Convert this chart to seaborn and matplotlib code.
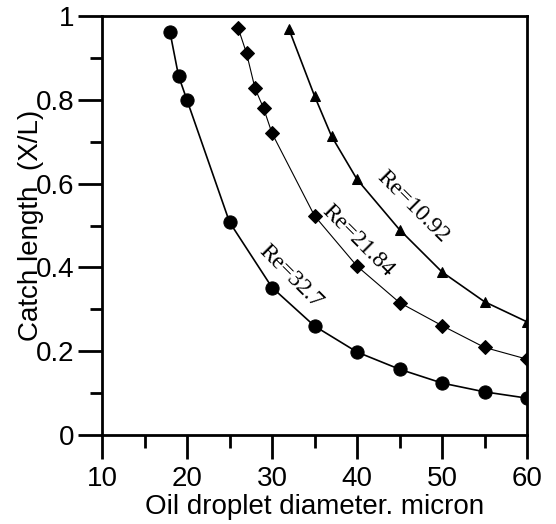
import numpy as np
import pandas as pd
import matplotlib
matplotlib.use("Agg")
import matplotlib.pyplot as plt
import seaborn as sns
from matplotlib.ticker import MultipleLocator

# Data
re_labels = ["Re=32.7", "Re=21.84", "Re=10.92"]
d_re327 = [18, 19, 20, 25, 30, 35, 40, 45, 50, 55, 60]
x_re327 = [0.961, 0.857, 0.799, 0.508, 0.352, 0.260, 0.198, 0.157, 0.124, 0.103, 0.088]
d_re2184 = [26, 27, 28, 29, 30, 35, 40, 45, 50, 55, 60]
x_re2184 = [0.972, 0.911, 0.827, 0.780, 0.720, 0.523, 0.403, 0.316, 0.261, 0.209, 0.181]
d_re1092 = [32, 35, 37, 40, 45, 50, 55, 60]
x_re1092 = [0.968, 0.809, 0.713, 0.610, 0.490, 0.389, 0.318, 0.270]

sns.set_style("ticks")
plt.rcParams['font.family'] = ['Liberation Sans', 'DejaVu Sans']
plt.rcParams.update({"text.color": "black", "axes.labelcolor": "black",
                     "xtick.color": "black", "ytick.color": "black",
                     "axes.edgecolor": "black"})

fig = plt.figure(figsize=(5.56, 5.24), dpi=100)
ax = fig.add_axes([0.1835, 0.1698, 0.7645, 0.7997])

series = [
    (d_re327, x_re327, "o", 9.5, 1.2),
    (d_re2184, x_re2184, "D", 7, 0.8),
    (d_re1092, x_re1092, "^", 7.5, 1.2),
]
for lab, (d, v, m, ms, lw) in zip(re_labels, series):
    df = pd.DataFrame({"d": d, "v": v})
    sns.lineplot(data=df, x="d", y="v", ax=ax, color="black", marker=m,
                 markersize=ms, linewidth=lw, markeredgecolor="black",
                 markerfacecolor="black", legend=False)

ax.set_xlim(10, 60)
ax.set_ylim(0, 1)
ax.xaxis.set_major_locator(MultipleLocator(10))
ax.xaxis.set_minor_locator(MultipleLocator(5))
ax.yaxis.set_major_locator(MultipleLocator(0.2))
ax.yaxis.set_minor_locator(MultipleLocator(0.1))
ax.set_yticks([0, 0.2, 0.4, 0.6, 0.8, 1.0])
ax.set_yticklabels(["0", "0.2", "0.4", "0.6", "0.8", "1"])
ax.tick_params(axis="both", which="major", direction="out", length=17, width=2,
               labelsize=20, colors="black", pad=3)
ax.tick_params(axis="x", which="major", pad=5)
ax.tick_params(axis="both", which="minor", direction="out", length=9, width=2,
               color="black")
for s in ax.spines.values():
    s.set_linewidth(2)
    s.set_color("black")
    s.set_visible(True)

ax.set_xlabel("Oil droplet diameter. micron", fontsize=20, labelpad=2, color="black")
ax.set_ylabel("Catch length  (X/L)", fontsize=20, labelpad=-6, color="black")

ann = [(32.2, 0.377, re_labels[0]), (40.1, 0.463, re_labels[1]), (46.6, 0.544, re_labels[2])]
for x, y, t in ann:
    ax.text(x, y, t, rotation=-45, ha="center", va="center", fontsize=17,
            family="Liberation Serif", rotation_mode="anchor", color="black")

fig.savefig("out.png", dpi=100)
